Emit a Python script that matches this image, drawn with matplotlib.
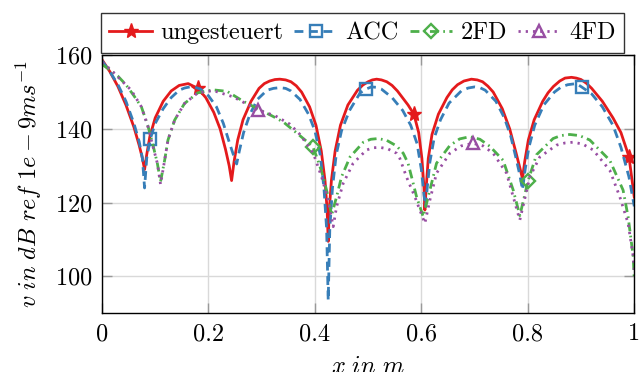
import matplotlib
matplotlib.use("Agg")
import matplotlib.pyplot as plt
from matplotlib.ticker import FuncFormatter
import numpy as np

# ungesteuert
x_ung = [0.000, 0.015, 0.030, 0.045, 0.060, 0.070, 0.076, 0.080, 0.084, 0.090,
         0.100, 0.115, 0.130, 0.145, 0.162, 0.180, 0.195, 0.210, 0.222, 0.232,
         0.239, 0.2435, 0.248, 0.255, 0.265, 0.280, 0.295, 0.305, 0.315, 0.325,
         0.334, 0.345, 0.355, 0.365, 0.375, 0.390, 0.402, 0.412, 0.419, 0.423,
         0.425, 0.427, 0.431, 0.438, 0.448, 0.462, 0.480, 0.490, 0.500, 0.508,
         0.516, 0.525, 0.535, 0.545, 0.555, 0.575, 0.586, 0.595, 0.601, 0.605,
         0.6066, 0.609, 0.613, 0.620, 0.632, 0.648, 0.658, 0.668, 0.680, 0.694,
         0.705, 0.715, 0.725, 0.735, 0.752, 0.766, 0.777, 0.785, 0.790, 0.794,
         0.801, 0.812, 0.828, 0.838, 0.848, 0.860, 0.870, 0.882, 0.891, 0.900,
         0.910, 0.920, 0.940, 0.960, 0.975, 0.990, 1.000]
v_ung = [158.8, 155.5, 151.5, 146.5, 140.5, 135.5, 132.0, 129.0, 133.0, 138.0,
         143.0, 147.5, 150.3, 151.8, 152.3, 151.0, 148.5, 144.5, 140.0, 134.5,
         130.0, 126.0, 131.0, 137.0, 142.5, 147.5, 151.0, 152.3, 153.0, 153.4,
         153.5, 153.3, 152.8, 151.7, 150.0, 146.0, 141.0, 134.0, 126.0, 118.0,
         109.5, 118.0, 126.0, 134.0, 141.0, 146.5, 150.5, 151.9, 152.8, 153.3,
         153.5, 153.3, 152.8, 151.8, 150.3, 146.5, 144.0, 139.0, 132.0, 124.0,
         118.0, 124.0, 132.0, 138.5, 144.0, 148.5, 150.6, 152.0, 153.0, 153.5,
         153.3, 152.8, 151.6, 150.0, 145.5, 140.0, 134.0, 129.5, 126.5, 131.0,
         137.0, 142.5, 147.5, 149.8, 151.5, 153.0, 153.8, 154.0, 153.8, 153.4,
         152.4, 151.0, 147.5, 143.0, 139.0, 132.5, 121.5]

# ACC
x_acc = [0.000, 0.015, 0.030, 0.045, 0.060, 0.070, 0.076, 0.080, 0.084, 0.091,
         0.100, 0.115, 0.130, 0.145, 0.155, 0.165, 0.175, 0.185, 0.200, 0.215,
         0.228, 0.240, 0.248, 0.253, 0.258, 0.266, 0.278, 0.292, 0.310, 0.322,
         0.334, 0.345, 0.355, 0.372, 0.388, 0.400, 0.410, 0.417, 0.422, 0.425,
         0.428, 0.433, 0.440, 0.450, 0.465, 0.485, 0.496, 0.506, 0.515, 0.525,
         0.545, 0.565, 0.580, 0.592, 0.600, 0.605, 0.608, 0.611, 0.616, 0.624,
         0.636, 0.652, 0.675, 0.688, 0.700, 0.710, 0.720, 0.740, 0.756, 0.768,
         0.778, 0.785, 0.790, 0.795, 0.802, 0.813, 0.830, 0.850, 0.863, 0.875,
         0.891, 0.901, 0.920, 0.940, 0.960, 0.975, 0.990, 1.000]
v_acc = [158.5, 155.5, 152.0, 147.5, 141.5, 136.5, 132.0, 124.0, 132.0, 137.4,
         141.5, 145.5, 148.5, 150.5, 151.1, 151.4, 151.3, 150.8, 149.0, 146.0,
         141.5, 136.0, 132.5, 130.5, 134.0, 139.0, 144.0, 148.0, 150.5, 151.0,
         151.2, 151.0, 150.3, 148.0, 144.0, 139.5, 133.0, 124.0, 113.0, 93.5,
         113.0, 124.0, 133.0, 139.5, 145.0, 149.8, 150.8, 151.4, 151.3, 150.8,
         148.5, 145.0, 141.0, 136.0, 129.0, 122.0, 119.0, 124.0, 131.0, 137.5,
         142.5, 147.0, 150.3, 151.1, 151.4, 151.2, 150.5, 147.5, 143.0, 138.0,
         132.0, 127.5, 123.5, 129.0, 135.0, 141.0, 146.5, 150.0, 151.4, 152.0,
         152.3, 151.4, 149.5, 146.0, 141.0, 135.0, 127.0, 119.0]

# 2FD
x_2fd = [0.000, 0.015, 0.030, 0.045, 0.060, 0.074, 0.086, 0.096, 0.104, 0.110,
         0.1177, 0.124, 0.1365, 0.155, 0.180, 0.209, 0.235, 0.2654, 0.2936, 0.320,
         0.3405, 0.365, 0.3906, 0.396, 0.4057, 0.4157, 0.425, 0.4313, 0.4407, 0.450,
         0.466, 0.491, 0.505, 0.519, 0.535, 0.5534, 0.566, 0.575, 0.5816, 0.591,
         0.6035, 0.616, 0.6285, 0.6535, 0.672, 0.691, 0.710, 0.7286, 0.7536, 0.7726,
         0.785, 0.8006, 0.8163, 0.8475, 0.862, 0.879, 0.897, 0.9164, 0.954, 0.979,
         0.9884, 0.998, 1.000]
v_2fd = [157.5, 156.0, 154.3, 152.0, 149.0, 146.0, 141.0, 135.5, 130.7, 125.7,
         131.5, 137.0, 142.4, 146.9, 149.8, 150.6, 150.2, 147.5, 145.4, 143.5,
         141.9, 139.0, 135.9, 135.2, 131.5, 127.0, 121.6, 116.6, 121.6, 127.0,
         132.4, 136.4, 137.2, 137.4, 136.9, 135.4, 133.4, 130.7, 127.0, 121.6,
         116.2, 123.4, 130.7, 135.5, 137.3, 137.9, 137.2, 135.3, 131.5, 123.4,
         116.5, 126.0, 133.0, 137.4, 138.2, 138.5, 138.2, 137.0, 131.5, 123.4,
         116.2, 105.4, 99.0]

# 4FD
x_4fd = [0.000, 0.015, 0.030, 0.055, 0.074, 0.0864, 0.0958, 0.104, 0.110, 0.1177,
         0.124, 0.1365, 0.155, 0.180, 0.209, 0.2465, 0.2936, 0.325, 0.353, 0.372,
         0.397, 0.4126, 0.425, 0.4344, 0.4407, 0.453, 0.4719, 0.497, 0.510, 0.522,
         0.537, 0.5534, 0.5596, 0.572, 0.5878, 0.6066, 0.616, 0.6285, 0.6535, 0.675,
         0.697, 0.716, 0.735, 0.760, 0.7726, 0.785, 0.8038, 0.8225, 0.8537, 0.870,
         0.885, 0.903, 0.9227, 0.954, 0.9728, 0.9884, 0.998, 1.000]
v_4fd = [158.0, 156.3, 154.1, 150.5, 146.0, 140.6, 135.2, 130.7, 125.0, 131.5,
         137.0, 142.4, 146.9, 149.8, 150.4, 148.7, 145.1, 143.6, 141.3, 138.5,
         133.4, 127.0, 120.7, 113.5, 118.9, 125.2, 130.7, 134.3, 134.9, 135.0,
         134.6, 133.4, 132.0, 127.0, 121.6, 114.4, 120.7, 128.0, 133.4, 135.4,
         136.1, 135.4, 133.4, 128.0, 121.6, 115.3, 127.0, 132.4, 135.6, 136.2,
         136.4, 135.9, 134.3, 128.8, 121.6, 114.4, 105.4, 101.8]

labels = ["ungesteuert", "ACC", "2FD", "4FD"]
x_ticks = [0, 0.2, 0.4, 0.6, 0.8, 1]
y_ticks = [100, 120, 140, 160]

plt.rcParams["font.family"] = "cmr10"
plt.rcParams["mathtext.fontset"] = "cm"
plt.rcParams["axes.formatter.use_mathtext"] = True

fig = plt.figure(figsize=(6.39, 3.72), dpi=100)
ax = fig.add_axes([0.1596, 0.1578, 0.833, 0.6938])


def marks(xs, where):
    # index of the data point closest to each marker position
    return [int(np.argmin(np.abs(np.array(xs) - w))) for w in where]


lw = 2.0
ax.plot(x_ung, v_ung, color="#e41a1c", lw=lw, ls="-", marker="*", ms=11,
        markevery=marks(x_ung, [0.180, 0.586, 0.990]), label=labels[0])
ax.plot(x_acc, v_acc, color="#377eb8", lw=lw, ls=(0, (3.2, 2.0)), marker="s", ms=9,
        mfc="none", mew=1.7, markevery=marks(x_acc, [0.091, 0.496, 0.901]), label=labels[1])
ax.plot(x_2fd, v_2fd, color="#4daf4a", lw=lw, ls=(0, (3.2, 1.6, 0.6, 1.6)), marker="D", ms=7,
        mfc="none", mew=1.7, markevery=marks(x_2fd, [0.396, 0.8006]), label=labels[2])
ax.plot(x_4fd, v_4fd, color="#984ea3", lw=lw, ls=(0, (0.8, 1.8)), marker="^", ms=9,
        mfc="none", mew=1.7, markevery=marks(x_4fd, [0.2936, 0.697]), label=labels[3])

ax.set_xlim(0, 1)
ax.set_ylim(90, 160)
ax.set_xticks(x_ticks)
ax.set_yticks(y_ticks)
ax.xaxis.set_major_formatter(FuncFormatter(lambda v, p: "%g" % v))
ax.grid(True, color="#d9d9d9", lw=1)
ax.set_axisbelow(True)
ax.tick_params(direction="in", length=7, width=1, color="#999999",
               labelsize=17.5, pad=7, top=True, right=True)
for s in ax.spines.values():
    s.set_linewidth(1)
    s.set_color("black")

ax.set_xlabel(r"$x\ in\ m$", fontsize=17.5, labelpad=8)
ax.set_ylabel(r"$v\ in\ dB\ ref\ 1e-9ms^{-1}$", fontsize=17.5, labelpad=8)

leg = ax.legend(loc="lower left", bbox_to_anchor=(-0.002, 1.01), ncol=4,
                fontsize=17.5, frameon=True, fancybox=False, edgecolor="black",
                borderaxespad=0, handlelength=1.75, handletextpad=0.35,
                columnspacing=0.45, borderpad=0.35, numpoints=1)
leg.get_frame().set_linewidth(1)

fig.savefig("out.png", dpi=100)
